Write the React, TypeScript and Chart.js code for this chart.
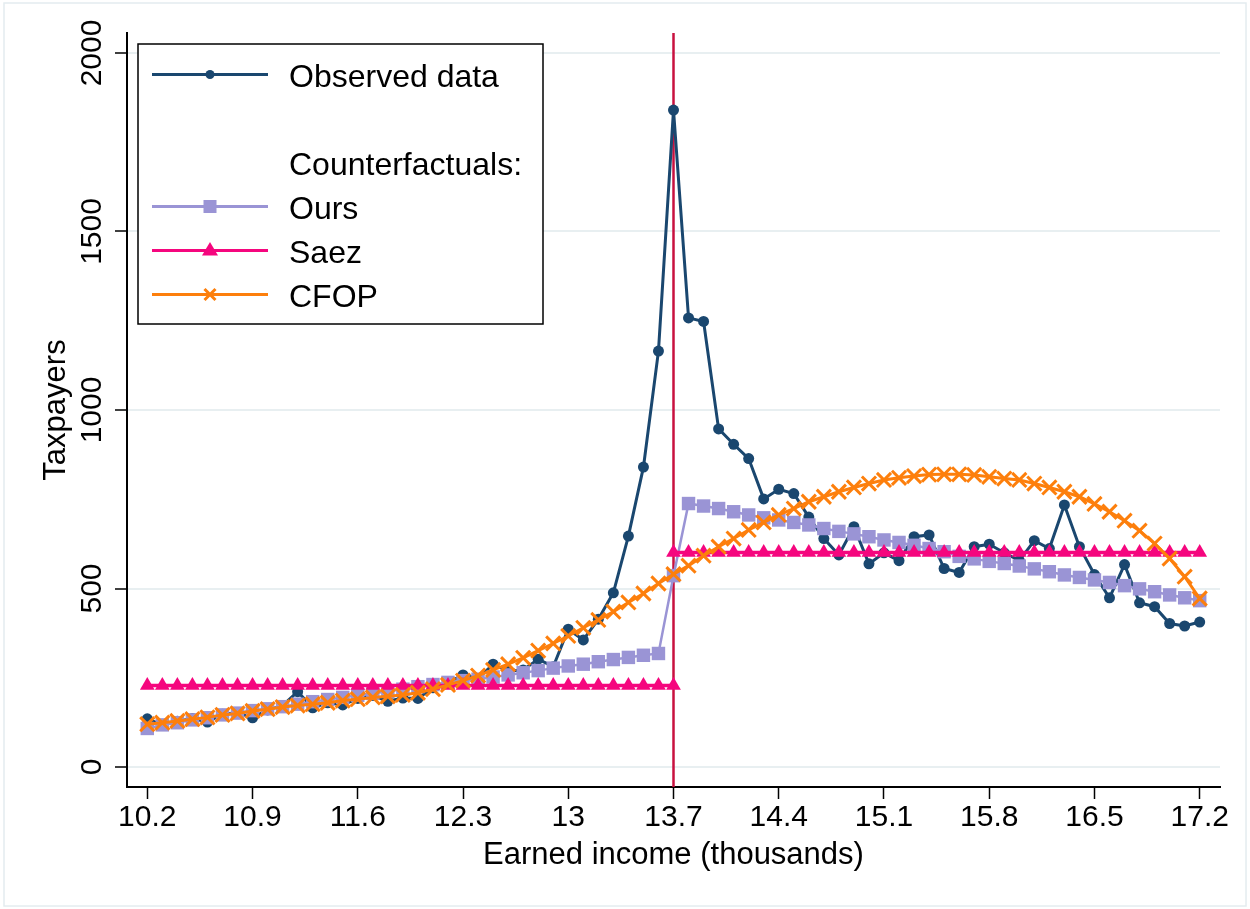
import { useEffect, useRef } from 'react';
import { Chart, registerables } from 'chart.js';

Chart.register(...registerables);

// Earned income bins (thousands)
const incomes = [
  10.2, 10.3, 10.4, 10.5, 10.6, 10.7, 10.8, 10.9, 11.0, 11.1,
  11.2, 11.3, 11.4, 11.5, 11.6, 11.7, 11.8, 11.9, 12.0, 12.1,
  12.2, 12.3, 12.4, 12.5, 12.6, 12.7, 12.8, 12.9, 13.0, 13.1,
  13.2, 13.3, 13.4, 13.5, 13.6, 13.7, 13.8, 13.9, 14.0, 14.1,
  14.2, 14.3, 14.4, 14.5, 14.6, 14.7, 14.8, 14.9, 15.0, 15.1,
  15.2, 15.3, 15.4, 15.5, 15.6, 15.7, 15.8, 15.9, 16.0, 16.1,
  16.2, 16.3, 16.4, 16.5, 16.6, 16.7, 16.8, 16.9, 17.0, 17.1,
  17.2,
];

const observed = [
  135, 118, 128, 136, 126, 148, 152, 138, 160, 172,
  211, 166, 180, 174, 192, 200, 184, 193, 192, 222,
  236, 258, 248, 288, 268, 272, 302, 281, 386, 356,
  414, 488, 647, 840, 1165, 1840, 1258, 1248, 947, 904,
  864, 751, 778, 766, 700, 640, 594, 673, 569, 600,
  578, 645, 650, 556, 545, 617, 624, 600, 578, 634,
  612, 734, 617, 539, 474, 567, 460, 449, 402, 395,
  406,
];

const ours = [
  108, 118, 124, 132, 138, 146, 151, 158, 163, 169,
  176, 183, 189, 195, 201, 206, 212, 218, 225, 231,
  237, 242, 246, 252, 258, 264, 270, 277, 283, 288,
  295, 301, 307, 313, 318, 536, 738, 731, 724, 715,
  706, 698, 692, 685, 678, 668, 660, 653, 645, 636,
  629, 621, 612, 603, 590, 583, 576, 570, 563, 555,
  547, 538, 531, 524, 517, 508, 499, 491, 482, 474,
  466,
];

const cfop = [
  120, 124, 129, 134, 139, 146, 150, 157, 162, 168,
  172, 176, 180, 186, 190, 195, 198, 202, 208, 218,
  230, 242, 256, 272, 288, 306, 326, 346, 367, 390,
  412, 435, 461, 486, 514, 540, 564, 592, 617, 640,
  664, 685, 706, 724, 743, 757, 771, 783, 794, 804,
  810, 815, 819, 820, 820, 818, 813, 808, 804, 794,
  783, 771, 757, 737, 715, 690, 662, 626, 584, 533,
  472,
];

// Saez counterfactual: flat below and above the kink
const saezBelowIncomes = [
  10.2, 10.3, 10.4, 10.5, 10.6, 10.7, 10.8, 10.9, 11.0, 11.1,
  11.2, 11.3, 11.4, 11.5, 11.6, 11.7, 11.8, 11.9, 12.0, 12.1,
  12.2, 12.3, 12.4, 12.5, 12.6, 12.7, 12.8, 12.9, 13.0, 13.1,
  13.2, 13.3, 13.4, 13.5, 13.6, 13.7,
];
const saezBelow = [
  228, 228, 228, 228, 228, 228, 228, 228, 228, 228,
  228, 228, 228, 228, 228, 228, 228, 228, 228, 228,
  228, 228, 228, 228, 228, 228, 228, 228, 228, 228,
  228, 228, 228, 228, 228, 228,
];
const saezAboveIncomes = [
  13.7, 13.8, 13.9, 14.0, 14.1, 14.2, 14.3, 14.4, 14.5, 14.6,
  14.7, 14.8, 14.9, 15.0, 15.1, 15.2, 15.3, 15.4, 15.5, 15.6,
  15.7, 15.8, 15.9, 16.0, 16.1, 16.2, 16.3, 16.4, 16.5, 16.6,
  16.7, 16.8, 16.9, 17.0, 17.1, 17.2,
];
const saezAbove = [
  601, 601, 601, 601, 601, 601, 601, 601, 601, 601,
  601, 601, 601, 601, 601, 601, 601, 601, 601, 601,
  601, 601, 601, 601, 601, 601, 601, 601, 601, 601,
  601, 601, 601, 601, 601, 601,
];

const kinkIncome = 13.7;

const xTicks = [10.2, 10.9, 11.6, 12.3, 13, 13.7, 14.4, 15.1, 15.8, 16.5, 17.2];
const xTickLabels = ['10.2', '10.9', '11.6', '12.3', '13', '13.7', '14.4', '15.1', '15.8', '16.5', '17.2'];
const yTicks = [0, 500, 1000, 1500, 2000];
const yTickLabels = ['0', '500', '1000', '1500', '2000'];

const xTitle = 'Earned income (thousands)';
const yTitle = 'Taxpayers';

const NAVY = '#1a476f';
const LAVENDER = '#9a94d5';
const PINK = '#f5067e';
const ORANGE = '#fd7f0c';
const CRANBERRY = '#c8113f';
const GRID = '#e8eff1';
const FONT = '"Liberation Sans", Arial, Helvetica, sans-serif';

const legendItems = [
  { label: 'Observed data', color: NAVY, marker: 'circle' },
  { label: '', color: '', marker: '' },
  { label: 'Counterfactuals:', color: '', marker: '' },
  { label: 'Ours', color: LAVENDER, marker: 'rect' },
  { label: 'Saez', color: PINK, marker: 'triangle' },
  { label: 'CFOP', color: ORANGE, marker: 'crossRot' },
];

const pairs = (xs: number[], ys: number[]) => xs.map((x, i) => ({ x, y: ys[i] }));

function drawMarker(ctx: CanvasRenderingContext2D, style: string, x: number, y: number, color: string) {
  ctx.save();
  ctx.fillStyle = color;
  ctx.strokeStyle = color;
  ctx.beginPath();
  if (style === 'circle') {
    ctx.arc(x, y, 4.5, 0, Math.PI * 2);
    ctx.fill();
  } else if (style === 'rect') {
    ctx.fillRect(x - 6.5, y - 6.5, 13, 13);
  } else if (style === 'triangle') {
    ctx.moveTo(x, y - 8.5);
    ctx.lineTo(x + 8, y + 5);
    ctx.lineTo(x - 8, y + 5);
    ctx.closePath();
    ctx.fill();
  } else if (style === 'crossRot') {
    ctx.lineWidth = 3;
    ctx.moveTo(x - 5.5, y - 5.5);
    ctx.lineTo(x + 5.5, y + 5.5);
    ctx.moveTo(x + 5.5, y - 5.5);
    ctx.lineTo(x - 5.5, y + 5.5);
    ctx.stroke();
  }
  ctx.restore();
}

const decorations = {
  id: 'decorations',
  beforeDraw(chart: any) {
    const ctx = chart.ctx as CanvasRenderingContext2D;
    ctx.save();
    ctx.strokeStyle = '#e4ecef';
    ctx.lineWidth = 1.5;
    ctx.strokeRect(4, 3, chart.width - 8, chart.height - 6);
    ctx.restore();
  },
  beforeDatasetsDraw(chart: any) {
    const ctx = chart.ctx as CanvasRenderingContext2D;
    const { top, bottom } = chart.chartArea;
    const x = chart.scales.x.getPixelForValue(kinkIncome);
    ctx.save();
    ctx.strokeStyle = CRANBERRY;
    ctx.lineWidth = 2.5;
    ctx.beginPath();
    ctx.moveTo(x, top);
    ctx.lineTo(x, bottom);
    ctx.stroke();
    ctx.restore();
  },
  afterDraw(chart: any) {
    const ctx = chart.ctx as CanvasRenderingContext2D;
    const yScale = chart.scales.y;

    // vertical tick labels on the y axis
    ctx.save();
    ctx.fillStyle = '#000';
    ctx.font = `30px ${FONT}`;
    ctx.textAlign = 'center';
    ctx.textBaseline = 'alphabetic';
    yTicks.forEach((v, i) => {
      const y = yScale.getPixelForValue(v);
      ctx.save();
      ctx.translate(101, y);
      ctx.rotate(-Math.PI / 2);
      ctx.fillText(yTickLabels[i], 0, 0);
      ctx.restore();
    });
    ctx.restore();

    // legend box
    const bx = 138, by = 44, bw = 405, bh = 280;
    ctx.save();
    ctx.fillStyle = '#fff';
    ctx.fillRect(bx, by, bw, bh);
    ctx.strokeStyle = '#000';
    ctx.lineWidth = 1.5;
    ctx.strokeRect(bx, by, bw, bh);
    ctx.font = `32px ${FONT}`;
    ctx.textAlign = 'left';
    ctx.textBaseline = 'alphabetic';
    legendItems.forEach((item, i) => {
      const baseline = 87 + i * 44;
      const my = baseline - 12.5;
      if (item.marker) {
        ctx.strokeStyle = item.color;
        ctx.lineWidth = 3;
        ctx.beginPath();
        ctx.moveTo(152, my);
        ctx.lineTo(268, my);
        ctx.stroke();
        drawMarker(ctx, item.marker, 210, my, item.color);
      }
      if (item.label) {
        ctx.fillStyle = '#000';
        ctx.fillText(item.label, 289, baseline);
      }
    });
    ctx.restore();
  },
};

export default function App() {
  const canvasRef = useRef<HTMLCanvasElement | null>(null);

  useEffect(() => {
    document.body.style.margin = '0';
    const canvas = canvasRef.current;
    if (!canvas) return;

    const chart = new Chart(canvas, {
      type: 'line',
      data: {
        datasets: [
          {
            label: 'CFOP',
            data: pairs(incomes, cfop),
            order: 0,
            borderColor: ORANGE,
            borderWidth: 3,
            pointStyle: 'crossRot',
            pointRadius: 10,
            pointBorderWidth: 3,
            pointBorderColor: ORANGE,
            pointBackgroundColor: ORANGE,
            tension: 0,
          },
          {
            label: 'Saez',
            data: pairs(saezBelowIncomes, saezBelow),
            order: 1,
            borderColor: PINK,
            borderWidth: 3.5,
            pointStyle: 'triangle',
            pointRadius: 8.5,
            pointBorderWidth: 0,
            pointBackgroundColor: PINK,
            tension: 0,
          },
          {
            label: 'Saez (above kink)',
            data: pairs(saezAboveIncomes, saezAbove),
            order: 1,
            borderColor: PINK,
            borderWidth: 3.5,
            pointStyle: 'triangle',
            pointRadius: 8.5,
            pointBorderWidth: 0,
            pointBackgroundColor: PINK,
            tension: 0,
          },
          {
            label: 'Ours',
            data: pairs(incomes, ours),
            order: 2,
            borderColor: LAVENDER,
            borderWidth: 2.5,
            pointStyle: 'rect',
            pointRadius: 9.5,
            pointBorderWidth: 0,
            pointBackgroundColor: LAVENDER,
            tension: 0,
          },
          {
            label: 'Observed data',
            data: pairs(incomes, observed),
            order: 3,
            borderColor: NAVY,
            borderWidth: 3,
            pointStyle: 'circle',
            pointRadius: 5.5,
            pointBorderWidth: 0,
            pointBackgroundColor: NAVY,
            tension: 0,
          },
        ],
      },
      options: {
        responsive: true,
        maintainAspectRatio: false,
        animation: false,
        layout: { padding: { top: 33, right: 30, bottom: 0, left: 0 } },
        plugins: {
          legend: { display: false },
          tooltip: { enabled: false },
        },
        scales: {
          x: {
            type: 'linear',
            min: 10.065,
            max: 17.335,
            afterBuildTicks: (scale: any) => {
              scale.ticks = xTicks.map((v) => ({ value: v }));
            },
            afterFit: (scale: any) => {
              scale.height = 122;
            },
            ticks: {
              autoSkip: false,
              maxRotation: 0,
              minRotation: 0,
              padding: 1,
              color: '#000',
              font: { family: FONT, size: 30 },
              callback: (value: any) => {
                const i = xTicks.findIndex((t) => Math.abs(t - Number(value)) < 1e-6);
                return i >= 0 ? xTickLabels[i] : '';
              },
            },
            grid: {
              drawOnChartArea: false,
              drawTicks: true,
              tickLength: 12,
              tickColor: '#000',
              tickWidth: 1.5,
            },
            border: { display: true, color: '#000', width: 2 },
            title: {
              display: true,
              text: xTitle,
              color: '#000',
              font: { family: FONT, size: 31 },
              padding: { top: 0, bottom: 35 },
            },
          },
          y: {
            type: 'linear',
            min: -56,
            max: 2056,
            afterBuildTicks: (scale: any) => {
              scale.ticks = yTicks.map((v) => ({ value: v }));
            },
            afterFit: (scale: any) => {
              scale.width = 127;
            },
            ticks: { display: false },
            grid: {
              color: GRID,
              lineWidth: 2,
              drawTicks: true,
              tickLength: 12,
              tickColor: '#000',
              tickWidth: 1.5,
            },
            border: { display: true, color: '#000', width: 2 },
            title: {
              display: true,
              text: yTitle,
              color: '#000',
              font: { family: FONT, size: 31 },
              padding: { top: 38, bottom: 0 },
            },
          },
        },
      },
      plugins: [decorations],
    } as any);

    return () => chart.destroy();
  }, []);

  return (
    <div style={{ width: 1250, height: 909, position: 'relative', background: '#fff' }}>
      <canvas ref={canvasRef} />
    </div>
  );
}
